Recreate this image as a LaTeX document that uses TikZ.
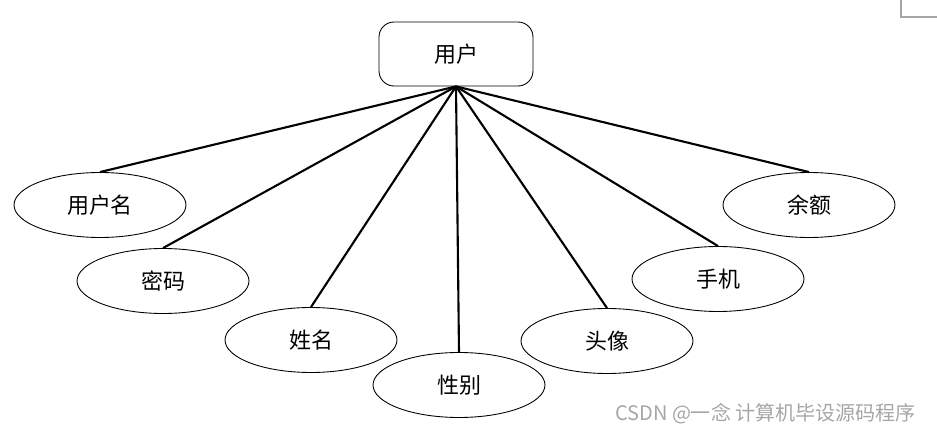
\documentclass[tikz,border=0pt]{standalone}
\usepackage{fontspec}
\newfontfamily\cjk{Noto Sans CJK SC}
\usepackage{tikz}
\usetikzlibrary{shapes.geometric}

\begin{document}
\begin{tikzpicture}[x=0.02cm,y=-0.02cm,
  attr/.style={draw,ellipse,line width=0.5pt,minimum width=3.44cm,minimum height=1.30cm,inner sep=0pt,font=\cjk\fontsize{12.5}{15}\selectfont},
  entity/.style={draw,rounded corners=0.3cm,line width=0.5pt,minimum width=3.08cm,minimum height=1.28cm,inner sep=0pt,font=\cjk\fontsize{12.5}{15}\selectfont},
  link/.style={line width=1.2pt}]
\useasboundingbox (0,0) rectangle (937,435);

\node[entity] (user) at (456,54) {用户};

\node[attr] (uname) at (100,205) {用户名};
\node[attr] (pwd) at (163,281) {密码};
\node[attr] (name) at (311,340) {姓名};
\node[attr] (sex) at (459,385) {性别};
\node[attr] (avatar) at (607,341) {头像};
\node[attr] (phone) at (718,279) {手机};
\node[attr] (balance) at (809,205) {余额};

\foreach \a in {uname,pwd,name,sex,avatar,phone,balance}
  \draw[link] (user.south) -- (\a.north);

% watermark
\node[gray!70,font=\cjk\fontsize{11.4}{13}\selectfont,anchor=east] (mark) at (922,414) {CSDN @一念 计算机毕设源码程序};
\draw[gray!70,line width=0.6pt] (901,0) -- (901,17) -- (937,17);
\end{tikzpicture}
\end{document}
